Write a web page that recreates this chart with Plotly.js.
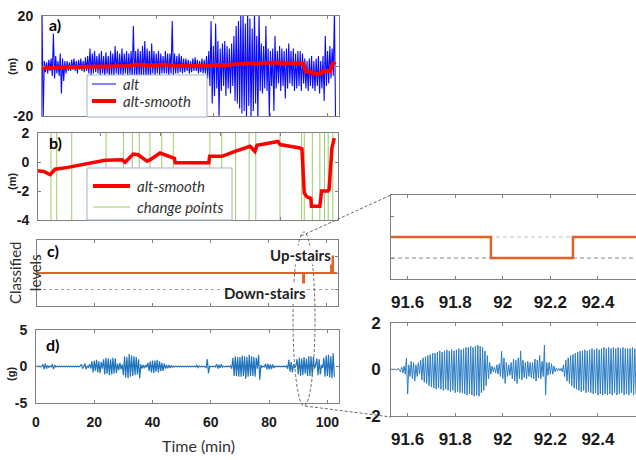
<!DOCTYPE html>
<html><head><meta charset="utf-8">
<script src="https://cdn.plot.ly/plotly-3.0.1.min.js"></script>
<style>html,body{margin:0;padding:0;background:#fff;}#chart{width:636px;height:460px;}</style>
</head><body><div id="chart"></div>
<script>
// ---------------- DATA ----------------
// a) raw altitude (m), sampled every 0.4 min from t = 0
const altStart = 0, altStep = 0.4;
const altValues = [
  22, -22, 2, -2.5, 1.5, -3, 2.5, -2, 3, -4, 13, -5, 4, -3, 2, -4, 5, -11, 3, -6, 2, -3, 2, -2, 1.5,
  -2, 2.5, -1.5, 3, -2, 2, -3, 2.5, -1.5, 3, -2, 2, -2.5, 3.5, -2, 4, -3, 7, -4, 5, -3, 6, -2.5, 4, -3,
  5, -4, 6, -3, 4, -4.5, 5.5, -3, 4, -5, 6, -3.5, 5, -4, 8, -3, 6, -4, 5, -3.5, 7, -4, 5, -3, 6,
  -4, 5, -3.5, 6, -5, 16, -4, 6, -5, 7, -4, 6, -5, 8, -4, 10, -5, 7, -4, 6, -5, 9, -3, 6, -4,
  5, -3, 6, -4, 5, -3, 4, -3, 6, -3, 5, -4, 5, -3, 18, -4, 5, -3, 4, -3, 5, -2.5, 4, -3, 3,
  -2.5, 3, -2, 2.5, -3, 2, -2.5, 3, -2, 3.5, -2, 2.5, -3, 2, -2.5, 3, -3, 2.5, -3, 4, -5, 6, -8, 18, -15,
  8, -12, 17, -9, 10, -20, 7, -10, 9, -8, 10, -12, 8, -9, 7, -11, 9, -8, 12, -14, 16, -15, 18, -17, 20,
  -19, 21, -18, 17, -20, 22, -16, 19, -21, 15, -18, 22, -15, 12, -22, 22, -10, 9, -11, 8, -9, 16, -10, 7, -20,
  6, -8, 7, -18, 12, -9, 6, -7, 8, -10, 7, -8, 6, -13, 7, -9, 9, -7, 6, -8, 7, -10, 5, -9, 6,
  -8, 6, -10, 5, -7, 3, -9, 2, -10, 3, -8, 4, -9, 2, -10, 3, -8, 4, -11, 2, -9, 4, -14, 12, -8,
  6, -7, 8, -5, 7, -4, 22, -22
];
// smoothed altitude (m)
const smoothTimes = [0, 2.0, 4.2, 5.9, 10.4, 16.3, 23.2, 29.1, 30.2, 33.0, 34.7, 37.8, 38.9, 42.3, 44.0,
  46.4, 47.3, 47.6, 59.2, 59.5, 63.8, 68.3, 73.5, 75.2, 75.9, 83.2, 83.9, 90.8, 91.5, 92.3, 93.2, 94.6, 94.8,
  97.7, 98.3, 100.5, 100.9, 101.9, 102.7];
const smoothValues = [-0.6, -0.65, -0.87, -0.5, -0.37, -0.14, 0.12, 0.16, -0.02, 0.55, 0.5, 0.05, 0.16, 0.62, 0.5,
  0.32, 0.25, -0.05, -0.05, 0.39, 0.39, 0.73, 1.08, 0.73, 1.15, 1.42, 1.2, 0.97, 0.9, -2.14, -2.4, -2.5, -3.06,
  -3.06, -2.0, -2.0, -1.9, 0.97, 1.65];
// b) change points (min)
const changePoints = [4.5, 6.5, 11.7, 23.6, 29.6, 32.7, 35.1, 38.8, 42.9, 46.9, 59.6, 63.7, 68.5, 73.2,
  75.5, 83.9, 91.4, 92.3, 95.1, 97.7, 99.3, 100.6, 102.2];
// c) classified levels
const levelTimes = [0, 91.95, 92.295, 101.6, 102.3, 103.7];
const levelValues = [0, -1, 0, 1, 0, 0];
// d) acceleration (g), sampled every 0.4 min from t = 0
const accStart = 0, accStep = 0.4;
const accValues = [
  0, 0.05, -0.05, 0.05, -0.05, 0.05, 0.3, -0.35, 0.4, -0.3, 0.15, -0.1, 0.05, -0.05, 0.3, -0.35, 0.2, -0.05, 0.05, -0.05, 0.05, -0.05, 0.05, -0.05, 0.05,
  -0.05, 0.05, -0.05, 0.05, -0.05, 0.05, -0.05, 0.05, -0.05, 0.05, -0.05, 0.05, -0.05, 0.1, 0.3, -0.3, 0.1, 0.4, -0.4, 0.1, -0.1, 0.3, -0.3, 0.7, -0.8,
  0.8, -0.6, 0.9, -0.8, 0.7, -0.9, 0.6, -0.3, 1.0, -1.1, 1.2, -1.0, 1.1, -1.2, 1.0, -1.1, 1.2, -1.0, 1.1, -0.9, 0.4, -0.5, 0.5, -0.4, 0.3,
  -1.2, 1.4, -1.5, 1.3, -1.6, 1.7, -1.4, 1.5, -1.3, 1.4, -1.2, 1.3, -1.1, 1.0, -1.6, 0.3, -0.3, 0.2, -0.25, 0.2, -0.1, 0.5, -0.6, 0.7, -0.8,
  0.8, -0.9, 0.8, -0.7, 0.9, -0.8, 0.7, -0.6, 0.5, -0.6, 0.4, -0.3, 0.2, -0.25, 0.2, -0.2, 0.15, -0.1, 0.05, -0.05, 0.05, -0.05, 0.05, -0.05, 0.05,
  -0.05, 0.05, -0.05, 0.05, -0.05, 0.05, -0.05, 0.05, -0.05, 0.05, -0.05, 0.05, -0.05, 0.2, -0.15, 0.05, -0.05, 0.05, -0.05, 0.05, -0.05, -0.2, 1.0, -0.95, 0.05,
  -0.05, 0.05, -0.05, 0.05, -0.05, 0.3, -0.3, 0.25, -0.2, 0.3, -0.1, 0.05, -0.05, 0.05, -0.05, 0.05, -0.05, 0.1, -0.3, 1.2, -1.3, 1.4, -1.3, 1.3, -1.4,
  1.3, -1.4, 1.5, -1.3, 1.4, -1.7, 1.3, -1.4, 1.6, -1.3, 1.4, -1.3, 1.3, -1.4, 1.2, -0.3, 1.6, -1.8, 0.2, -0.1, 0.05, -0.05, 0.4, -0.4, 0.35,
  -0.4, 0.3, -0.35, 0.3, -0.2, 0.05, -0.05, 0.05, -0.05, 0.05, -0.05, 0.05, -0.05, 0.05, -0.05, 0.1, -0.3, 0.9, -0.7, 0.6, -0.8, 0.3, -0.2, 0.1, 1.0,
  -1.1, 1.2, -1.3, 1.1, -1.2, 1.3, -1.0, 1.1, -1.3, 1.4, -1.3, 1.4, -1.3, 1.3, -0.3, 0.2, 1.1, -1.2, 1.0, -1.1, 0.2, -0.2, 1.2, -1.4, 1.5,
  -1.3, 1.6, -1.5, 1.4, -1.6, 1.8, -1.4
];
// zoomed acceleration (g), sampled every 0.005 min from t = 91.53
const zoomStart = 91.53, zoomStep = 0.005;
const zoomAcc = [
  0, 0.02, -0.02, 0.02, 0, -0.02, 0.05, -0.05, -0.1, 0.1, -0.15, 0.15, -0.2, 0.5, -1.05, 0.2, -0.3, 0.35, -0.4, 0.3,
  -0.5, 0.2, -0.3, 0.3, -0.2, 0.4, -0.45, 0.5, -0.55, 0.55, -0.6, 0.6, -0.7, 0.65, -0.75, 0.7, -0.8, 0.7, -0.85, 0.75,
  -0.8, 0.8, -0.85, 0.75, -0.9, 0.8, -0.85, 0.85, -0.9, 0.8, -0.95, 0.85, -0.9, 0.8, -1.0, 0.85, -0.95, 0.9, -1.0, 0.85,
  -1.0, 0.9, -1.05, 0.95, -1.1, 0.95, -1.05, 1.0, -1.1, 0.95, -1.15, 1.0, -1.1, 1.05, -1.15, 1.0, -1.0, 0.95, -0.9, 0.8,
  -0.7, 0.6, -0.4, 0.3, -0.2, 0.15, -0.1, 0.1, -0.15, 0.2, -0.2, 0.25, -0.3, 0.78, -0.4, 0.5, -0.6, 0.3, -0.3, 0.2,
  -0.25, 0.3, -0.4, 0.45, -0.5, 0.4, -0.6, 0.5, -0.4, 0.8, -0.45, 0.4, -0.35, 0.3, -0.4, 0.35, -0.3, 0.3, -0.35, 0.3,
  -0.4, 0.45, -0.5, 0.4, -0.35, 0.6, -0.4, 0.35, -0.3, 1.05, -1.1, 0.3, -0.25, 0.3, -0.2, 0.25, -0.2, 0.15, -0.1, 0.05,
  -0.05, 0.05, -0.05, 0.05, -0.1, 0.2, -0.3, 0.4, -0.5, 0.5, -0.6, 0.6, -0.7, 0.65, -0.8, 0.7, -0.85, 0.75, -0.9, 0.8,
  -0.95, 0.8, -0.9, 0.85, -1.0, 0.8, -0.95, 0.85, -1.0, 0.9, -1.05, 0.85, -1.0, 0.9, -1.1, 0.85, -1.05, 0.9, -1.1, 0.95,
  -1.05, 0.9, -1.1, 0.95, -1.05, 0.9, -1.1, 0.95, -1.0, 0.9, -1.1, 0.95, -1.05, 0.9, -1.0, 0.95, -1.1, 0.9, -1.05, 0.9,
  -1.1, 0.9, -1.0, 0.95, -1.1, 0.9, -1.05
];
const zoomLevelTimes = [91.53, 91.95, 92.295, 92.56];
const zoomLevelValues = [0, -1, 0, 0];
// tick labels
const timeTicks = [0, 20, 40, 60, 80, 100];
const timeTickText = ['0', '20', '40', '60', '80', '100'];
const zoomTicks = [91.6, 91.8, 92, 92.2, 92.4];
const zoomTickText = ['91.6', '91.8', '92', '92.2', '92.4'];
const altTicks = [-20, 0, 20], altTickText = ['-20', '0', '20'];
const smoothTicks = [-4, -2, 0, 2], smoothTickText = ['-4', '-2', '0', '2'];
const accTicks = [-5, 0, 5], accTickText = ['-5', '0', '5'];
const zoomAccTicks = [-2, 0, 2], zoomAccTickText = ['-2', '0', '2'];
// legend labels
const legendA = ['alt', 'alt-smooth'];
const legendB = ['alt-smooth', 'change points'];

// ---------------- BUILD ----------------
const W = 636, H = 460;
const px = x => x / W, py = y => 1 - y / H;
const altTimes = altValues.map((_, i) => altStart + i * altStep);
const accTimes = accValues.map((_, i) => accStart + i * accStep);
const zoomTimes = zoomAcc.map((_, i) => zoomStart + i * zoomStep);
const bRange = [-4, 2];
const cpX = [], cpY = [];
changePoints.forEach(c => { cpX.push(c, c, null); cpY.push(bRange[0], bRange[1], null); });

const cAlt = '#0a0aff', cRed = '#ff0000', cGreen = '#9ccb6a', cOrange = '#e0622b';

const traces = [
  {x: altTimes, y: altValues, xaxis: 'x', yaxis: 'y', type: 'scatter', mode: 'lines', name: legendA[0],
   line: {color: cAlt, width: 1.1}, showlegend: false},
  {x: smoothTimes, y: smoothValues, xaxis: 'x', yaxis: 'y', type: 'scatter', mode: 'lines', name: legendA[1],
   line: {color: cRed, width: 4}, showlegend: false},
  {x: cpX, y: cpY, xaxis: 'x2', yaxis: 'y2', type: 'scatter', mode: 'lines', name: legendB[1],
   line: {color: cGreen, width: 1}, showlegend: false, connectgaps: false},
  {x: smoothTimes, y: smoothValues, xaxis: 'x2', yaxis: 'y2', type: 'scatter', mode: 'lines', name: legendB[0],
   line: {color: cRed, width: 3.5}, showlegend: false},
  {x: levelTimes, y: levelValues, xaxis: 'x3', yaxis: 'y3', type: 'scatter', mode: 'lines',
   line: {color: cOrange, width: 2, shape: 'hv'}, showlegend: false},
  {x: accTimes, y: accValues, xaxis: 'x4', yaxis: 'y4', type: 'scatter', mode: 'lines',
   line: {color: '#1f74bd', width: 1.2}, showlegend: false},
  {x: zoomLevelTimes, y: zoomLevelValues, xaxis: 'x5', yaxis: 'y5', type: 'scatter', mode: 'lines',
   line: {color: cOrange, width: 2.5, shape: 'hv'}, showlegend: false},
  {x: zoomTimes, y: zoomAcc, xaxis: 'x6', yaxis: 'y6', type: 'scatter', mode: 'lines',
   line: {color: '#2a7cc4', width: 1}, showlegend: false}
];

const frame = '#808080';
const base = {showline: true, linecolor: frame, linewidth: 1, mirror: 'allticks', ticks: 'inside', ticklen: 3,
  tickcolor: frame, showgrid: false, zeroline: false, fixedrange: true};
const tickFont = {family: '"Liberation Sans Narrow","Arial Narrow","Liberation Sans",Arial,sans-serif', size: 14, weight: 'bold', color: '#1a1a1a'};
const zoomFont = Object.assign({}, tickFont, {size: 17});
const noLab = {showticklabels: false};

function ann(text, x, y, font, extra) {
  return Object.assign({text: text, x: px(x), y: py(y), xref: 'paper', yref: 'paper', showarrow: false,
    xanchor: 'center', yanchor: 'middle', font: font}, extra || {});
}
const lato = (size, color) => ({family: 'Lato, "Open Sans", sans-serif', size: size, color: color || '#222'});
const legFont = {family: 'Lato, "Open Sans", sans-serif', size: 15, style: 'italic', color: '#333'};
const dashed = {color: '#666', width: 1, dash: '3px,2px'};

const layout = {
  width: W, height: H, autosize: false,
  margin: {l: 0, r: 0, t: 0, b: 0, pad: 0},
  paper_bgcolor: '#fff', plot_bgcolor: '#fff', showlegend: false,
  xaxis: Object.assign({}, base, noLab, {domain: [px(42), px(339)], range: [0, 104], anchor: 'y', tickvals: timeTicks}),
  yaxis: Object.assign({}, base, {domain: [py(116), py(16)], range: [-20, 20], anchor: 'x', tickvals: altTicks, ticktext: altTickText, tickfont: tickFont, ticklabelstandoff: 5}),
  xaxis2: Object.assign({}, base, noLab, {domain: [px(38), px(338)], range: [0, 104], anchor: 'y2', tickvals: [21.5, 42.3, 63.1, 83.9]}),
  yaxis2: Object.assign({}, base, {domain: [py(220), py(133)], range: bRange, anchor: 'x2', tickvals: smoothTicks, ticktext: smoothTickText, tickfont: tickFont, ticklabelstandoff: 5}),
  xaxis3: Object.assign({}, base, noLab, {domain: [px(37), px(338)], range: [0, 104], anchor: 'y3', tickvals: timeTicks}),
  yaxis3: Object.assign({}, base, noLab, {domain: [py(306), py(240)], range: [-2, 2], anchor: 'x3', tickvals: [-1, 0, 1]}),
  xaxis4: Object.assign({}, base, {domain: [px(36), px(339)], range: [0, 104], anchor: 'y4', tickvals: timeTicks, ticktext: timeTickText, tickfont: tickFont, ticklabelstandoff: 6}),
  yaxis4: Object.assign({}, base, {domain: [py(403), py(330)], range: [-5, 5], anchor: 'x4', tickvals: accTicks, ticktext: accTickText, tickfont: tickFont, ticklabelstandoff: 5}),
  xaxis5: Object.assign({}, base, {domain: [px(391), 1], range: [91.53, 92.56], anchor: 'y5', tickvals: zoomTicks, ticktext: zoomTickText, tickfont: zoomFont, ticklabelstandoff: 8}),
  yaxis5: Object.assign({}, base, noLab, {mirror: false, domain: [py(279), py(195)], range: [-2, 2], anchor: 'x5', tickvals: [-1, 0, 1]}),
  xaxis6: Object.assign({}, base, {domain: [px(391), 1], range: [91.53, 92.56], anchor: 'y6', tickvals: zoomTicks, ticktext: zoomTickText, tickfont: zoomFont, ticklabelstandoff: 8}),
  yaxis6: Object.assign({}, base, {mirror: false, domain: [py(416), py(323)], range: [-2, 2], anchor: 'x6', tickvals: zoomAccTicks, ticktext: zoomAccTickText, tickfont: zoomFont, ticklabelstandoff: 6}),
  shapes: [
    {type: 'line', xref: 'x3 domain', yref: 'y3', x0: 0, x1: 1, y0: -1, y1: -1, layer: 'below', line: {color: '#a0a0a0', width: 1, dash: 'dot'}},
    {type: 'line', xref: 'x5 domain', yref: 'y5', x0: 0, x1: 1, y0: 0, y1: 0, layer: 'below', line: {color: '#c0c0c0', width: 1, dash: '4px,3px'}},
    {type: 'line', xref: 'x5 domain', yref: 'y5', x0: 0, x1: 1, y0: -1, y1: -1, layer: 'below', line: {color: '#888', width: 1, dash: '4px,3px'}},
    {type: 'circle', xref: 'paper', yref: 'paper', x0: px(293), x1: px(315), y0: py(406), y1: py(232), line: dashed},
    {type: 'line', xref: 'paper', yref: 'paper', x0: px(301), y0: py(236), x1: px(391), y1: py(195), line: dashed},
    {type: 'line', xref: 'paper', yref: 'paper', x0: px(305), y0: py(406), x1: px(391), y1: py(417), line: dashed},
    // legend boxes and samples (panel a)
    {type: 'rect', xref: 'paper', yref: 'paper', x0: px(87), x1: px(207), y0: py(117), y1: py(75), fillcolor: '#fff', line: {color: '#9fb4c9', width: 1}},
    {type: 'line', xref: 'paper', yref: 'paper', x0: px(92), x1: px(116), y0: py(84), y1: py(84), line: {color: cAlt, width: 1}},
    {type: 'line', xref: 'paper', yref: 'paper', x0: px(92), x1: px(116), y0: py(101), y1: py(101), line: {color: cRed, width: 4}},
    // legend box and samples (panel b)
    {type: 'rect', xref: 'paper', yref: 'paper', x0: px(87), x1: px(232), y0: py(220), y1: py(168), fillcolor: '#fff', line: {color: '#9fb4c9', width: 1}},
    {type: 'line', xref: 'paper', yref: 'paper', x0: px(93), x1: px(130), y0: py(186), y1: py(186), line: {color: cRed, width: 4}},
    {type: 'line', xref: 'paper', yref: 'paper', x0: px(93), x1: px(130), y0: py(207), y1: py(207), line: {color: cGreen, width: 1}}
  ],
  annotations: [
    ann('<b>a)</b>', 55, 24, lato(16, '#000')),
    ann('<b>b)</b>', 55, 142, lato(16, '#000')),
    ann('<b>c)</b>', 53, 250, lato(16, '#000')),
    ann('<b>d)</b>', 52, 344, lato(16, '#000')),
    ann('<b>(m)</b>', 12, 67, {family: 'Liberation Sans', size: 11, color: '#222'}, {textangle: -90}),
    ann('<b>(m)</b>', 12, 182, {family: 'Liberation Sans', size: 11, color: '#222'}, {textangle: -90}),
    ann('<b>(g)</b>', 11, 374, {family: 'Liberation Sans', size: 11, color: '#222'}, {textangle: -90}),
    ann('Classified<br>levels', 25, 273, lato(15, '#333'), {textangle: -90}),
    ann('<b>Up-stairs</b>', 300, 255, lato(15), {bgcolor: '#fff', borderpad: 0}),
    ann('<b>Down-stairs</b>', 265, 293, lato(15), {bgcolor: '#fff', borderpad: 0}),
    ann('Time (min)', 198, 445, lato(16, '#333')),
    ann(legendA[0], 121, 84, legFont, {xanchor: 'left'}),
    ann(legendA[1], 121, 101, legFont, {xanchor: 'left'}),
    ann(legendB[0], 135, 186, legFont, {xanchor: 'left'}),
    ann(legendB[1], 135, 207, legFont, {xanchor: 'left'})
  ]
};

Plotly.newPlot('chart', traces, layout, {staticPlot: true, displayModeBar: false});
</script>
</body></html>
